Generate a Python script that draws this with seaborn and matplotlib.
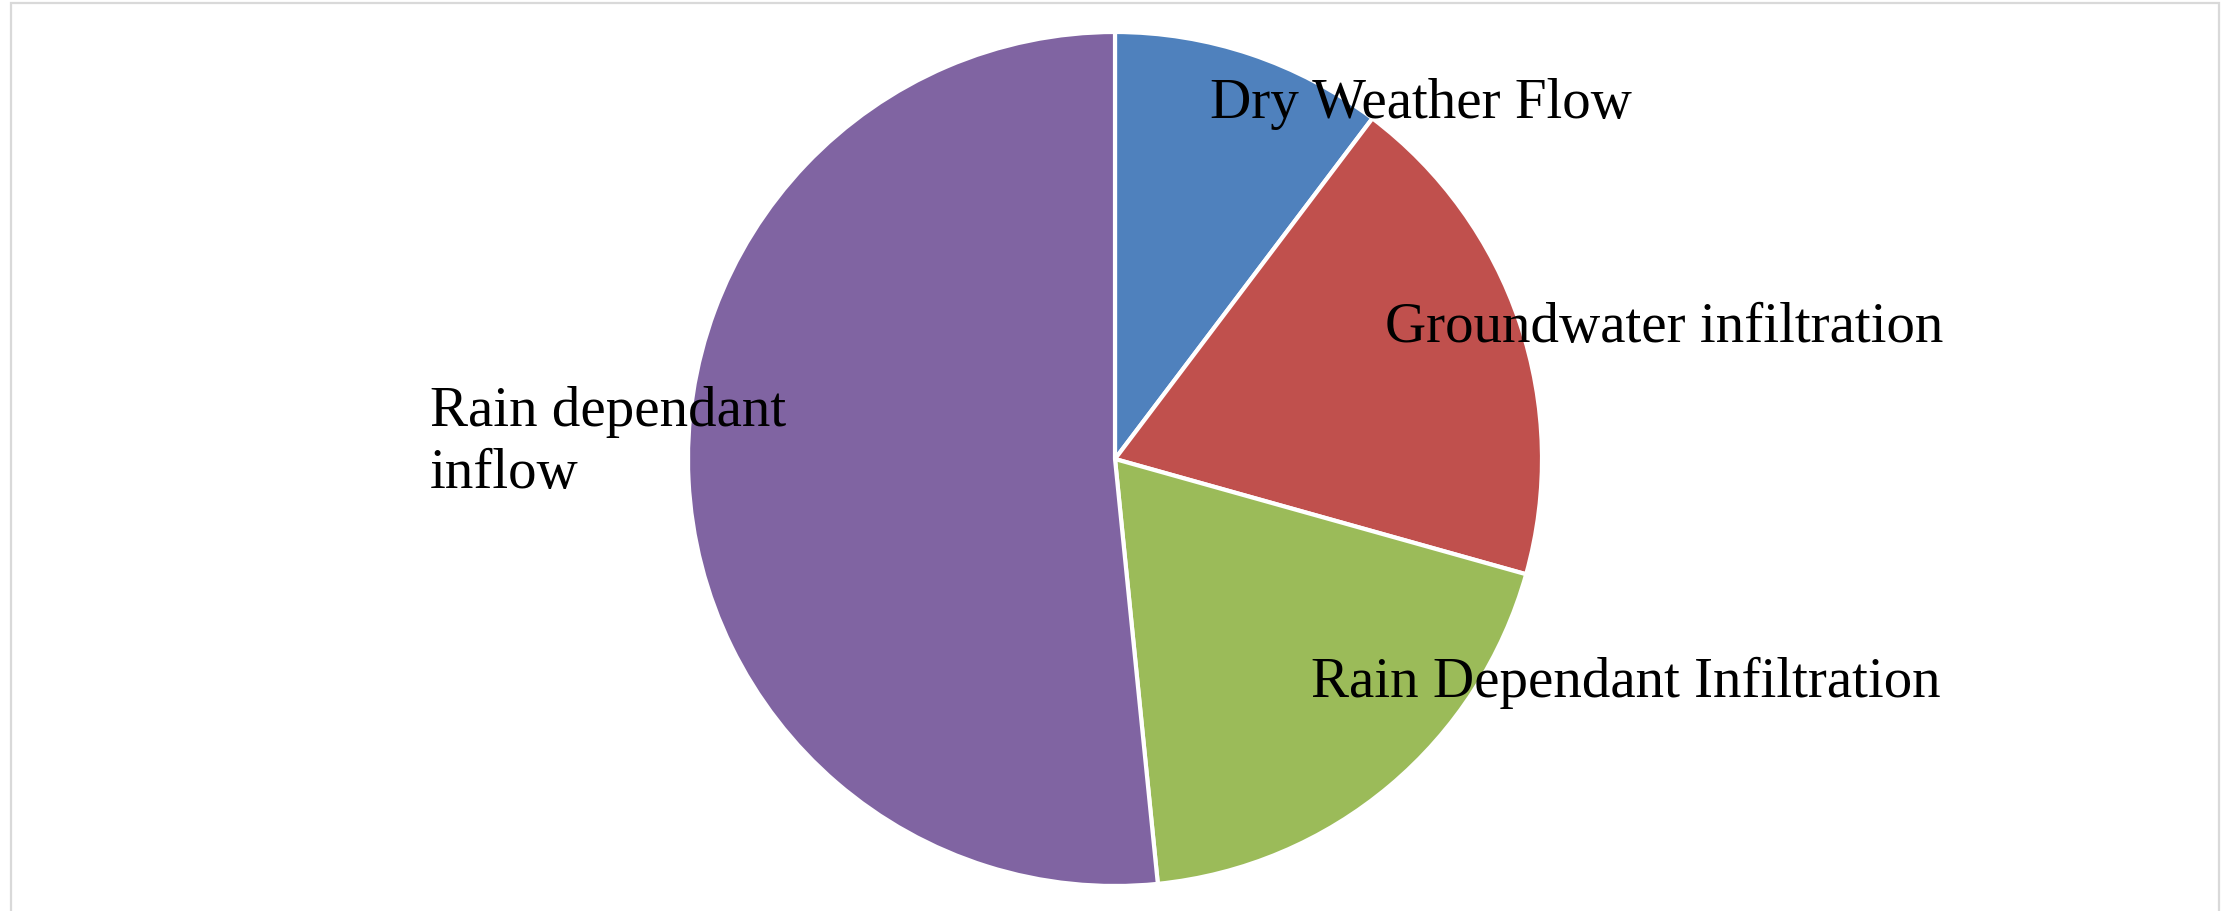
import matplotlib
matplotlib.use("Agg")
import matplotlib.pyplot as plt
from matplotlib.patches import Rectangle
import seaborn as sns

# Share of total sewer flow by component (percent)
categories = ["Dry Weather Flow", "Groundwater infiltration",
              "Rain Dependant Infiltration", "Rain dependant\ninflow"]
shares = [10.3, 19.05, 19.05, 51.6]
colors = ["#4F81BD", "#C0504D", "#9BBB59", "#8064A2"]

sns.set_theme(style="white")
plt.rcParams["font.family"] = ["Liberation Serif", "DejaVu Serif"]

W, H, DPI = 2234, 912, 100
fig = plt.figure(figsize=(W / DPI, H / DPI), dpi=DPI)
fig.patch.set_facecolor("white")

# light chart-area frame (open at the bottom)
fig.patches.append(Rectangle((11 / W, -0.05), (2219 - 11) / W, 1.05 - 4 / H,
                             transform=fig.transFigure, fill=False,
                             edgecolor="#D9D9D9", linewidth=1.6, zorder=0))

cx, cy, r = 1115, 460, 427
ax = fig.add_axes([(cx - r) / W, (H - cy - r) / H, 2 * r / W, 2 * r / H])
palette = sns.color_palette(colors)
ax.pie(shares, colors=palette, startangle=90, counterclock=False,
       radius=1.0, wedgeprops=dict(edgecolor="white", linewidth=3))
ax.set_xlim(-1, 1)
ax.set_ylim(-1, 1)
ax.set_aspect("equal")
ax.axis("off")


def px(x, y):
    return ((x - cx) / r, (cy - y) / r)


label_pos = [px(1210, 118), px(1385, 342), px(1311, 697), px(430, 488)]
for text, (x, y) in zip(categories, label_pos):
    ax.text(x, y, text, ha="left", va="baseline", fontsize=41,
            color="black", linespacing=1.26, clip_on=False)

fig.savefig("out.png", dpi=DPI, facecolor="white")
